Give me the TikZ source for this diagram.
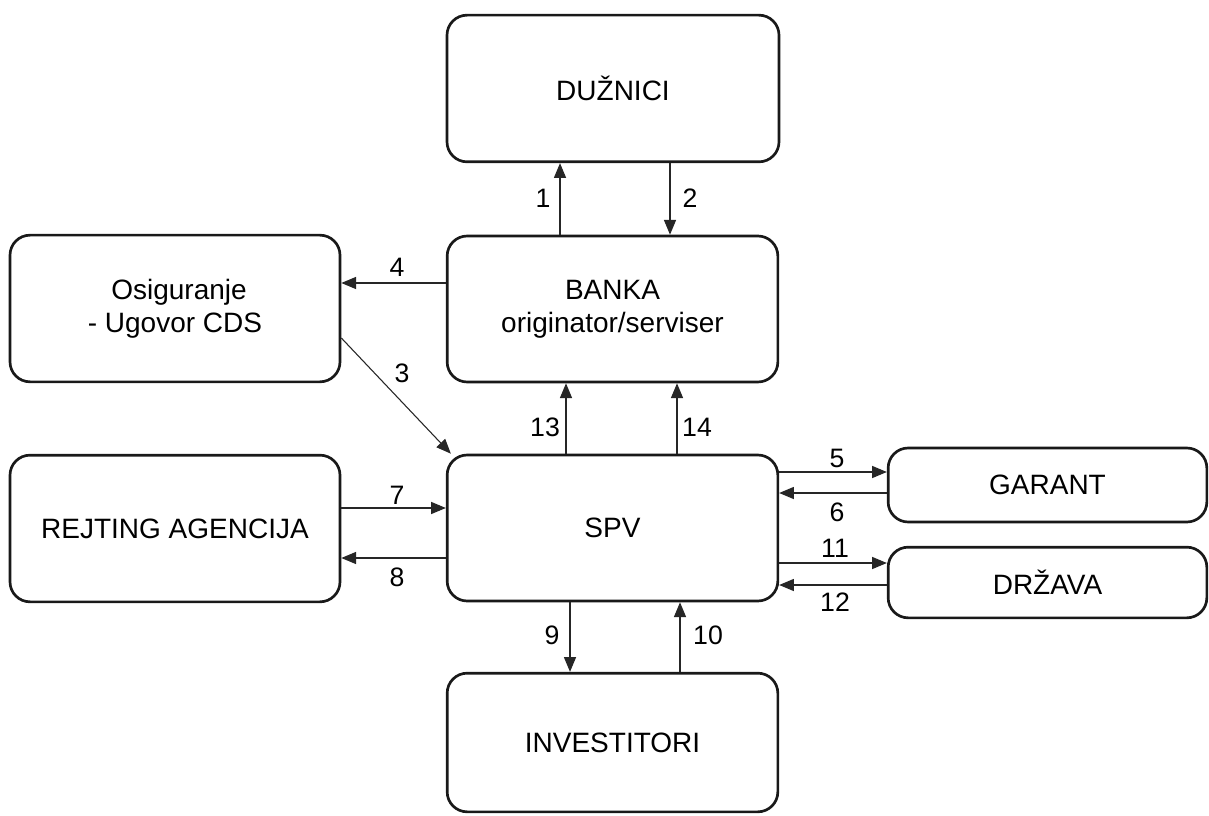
\documentclass[tikz,border=0pt]{standalone}
\usepackage{fontspec}
\setmainfont{Liberation Sans}
\usetikzlibrary{arrows.meta,calc}
\begin{document}
\begin{tikzpicture}[x=0.75pt,y=-0.75pt,
  box/.style={draw=black!90,line width=2pt,rounded corners=15pt,rectangle,align=center,
    font=\fontsize{21}{24.5}\selectfont,inner sep=0pt},
  arr/.style={-{Triangle[length=11pt,width=9pt]},line width=0.8pt,draw=black!85},
  num/.style={font=\fontsize{20}{22}\selectfont,inner sep=0pt}]
\useasboundingbox[fill=white] (0,0) rectangle (1209,816);
% boxes
\node[box,minimum width=249pt,minimum height=110pt] (duz) at (613,88.5) {DUŽNICI};
\node[box,minimum width=248pt,minimum height=109.5pt] (banka) at (612.5,309) {BANKA\\originator/serviser};
\node[box,minimum width=247.5pt,minimum height=110pt] (osig) at (175,308.5) {\hspace*{6pt}Osiguranje\\- Ugovor CDS};
\node[box,minimum width=248pt,minimum height=109.5pt] (spv) at (612.5,528) {SPV};
\node[box,minimum width=247.5pt,minimum height=110pt] (rejt) at (175,528.5) {REJTING AGENCIJA};
\node[box,minimum width=239pt,minimum height=55.5pt] (garant) at (1047.5,485) {GARANT};
\node[box,minimum width=239pt,minimum height=53pt] (drzava) at (1047.5,582.5) {\raisebox{-4pt}{DRŽAVA}};
\node[box,minimum width=248pt,minimum height=104pt] (inv) at (612.5,742.5) {\raisebox{-3pt}{INVESTITORI}};
% connectors
\draw[arr] (banka.north -| 560,0) -- (duz.south -| 560,0);
\draw[arr] (duz.south -| 670,0) -- (banka.north -| 670,0);
\draw[arr] (banka.west |- 0,283) -- (osig.east |- 0,283);
\draw[arr] (osig.east |- 0,338) -- ($(spv.north west)+(5,0)$);
\draw[arr] (spv.north -| 566,0) -- (banka.south -| 566,0);
\draw[arr] (spv.north -| 677,0) -- (banka.south -| 677,0);
\draw[arr] (spv.east |- 0,472) -- (garant.west |- 0,472);
\draw[arr] (garant.west |- 0,493) -- (spv.east |- 0,493);
\draw[arr] (spv.east |- 0,563) -- (drzava.west |- 0,563);
\draw[arr] (drzava.west |- 0,585) -- (spv.east |- 0,585);
\draw[arr] (rejt.east |- 0,508) -- (spv.west |- 0,508);
\draw[arr] (spv.west |- 0,558) -- (rejt.east |- 0,558);
\draw[arr] (spv.south -| 570,0) -- (inv.north -| 570,0);
\draw[arr] (inv.north -| 680,0) -- (spv.south -| 680,0);
% labels
\node[num] (n1) at (543,198) {1};
\node[num] (n2) at (690,198) {2};
\node[num] (n3) at (402,373) {3};
\node[num] (n4) at (397,267) {4};
\node[num] (n5) at (837,458) {5};
\node[num] (n6) at (837,512) {6};
\node[num] (n7) at (397,495) {7};
\node[num] (n8) at (397,577) {8};
\node[num] (n9) at (552,635) {9};
\node[num] (n10) at (708,635) {10};
\node[num] (n11) at (835,548) {11};
\node[num] (n12) at (835,602) {12};
\node[num] (n13) at (545,427) {13};
\node[num] (n14) at (697,427) {14};
\end{tikzpicture}
\end{document}
